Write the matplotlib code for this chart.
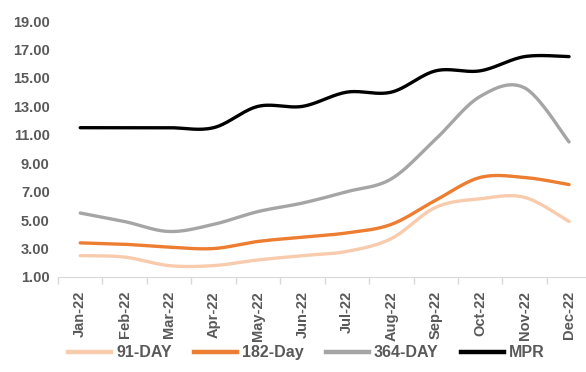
import matplotlib.pyplot as plt
import numpy as np
from matplotlib.lines import Line2D

plt.rcParams['font.family'] = ['Liberation Sans', 'DejaVu Sans']

# Data
months = ['Jan-22', 'Feb-22', 'Mar-22', 'Apr-22', 'May-22', 'Jun-22',
          'Jul-22', 'Aug-22', 'Sep-22', 'Oct-22', 'Nov-22', 'Dec-22']
tb_91 = [2.5, 2.4, 1.8, 1.8, 2.2, 2.5, 2.8, 3.7, 5.9, 6.5, 6.6, 4.9]
tb_182 = [3.4, 3.3, 3.1, 3.0, 3.5, 3.8, 4.1, 4.7, 6.4, 8.0, 8.0, 7.5]
tb_364 = [5.5, 4.9, 4.2, 4.7, 5.6, 6.2, 7.0, 7.9, 10.7, 13.7, 14.3, 10.5]
mpr = [11.5, 11.5, 11.5, 11.5, 13.0, 13.0, 14.0, 14.0, 15.5, 15.5, 16.5, 16.5]

series = [('91-DAY', tb_91, '#F8CBAD'),
          ('182-Day', tb_182, '#ED7D31'),
          ('364-DAY', tb_364, '#A5A5A5'),
          ('MPR', mpr, '#000000')]


def smooth(x, y, n=30):
    # cubic Bezier through every point, spreadsheet-style smoothing
    p = np.column_stack([x, y]).astype(float)
    ext = np.vstack([p[0], p, p[-1]])
    t = np.linspace(0, 1, n)[:, None]
    out = []
    for i in range(len(p) - 1):
        p0, p3 = p[i], p[i + 1]
        c1 = p0 + (ext[i + 2] - ext[i]) / 6
        c2 = p3 - (ext[i + 3] - ext[i + 1]) / 6
        seg = ((1 - t) ** 3) * p0 + 3 * ((1 - t) ** 2) * t * c1 \
            + 3 * (1 - t) * t ** 2 * c2 + t ** 3 * p3
        out.append(seg if i == 0 else seg[1:])
    out = np.vstack(out)
    return out[:, 0], out[:, 1]


fig = plt.figure(figsize=(5.86, 3.72), dpi=100)
ax = fig.add_axes([0.099, 0.2554, 0.91, 0.688])

x = np.arange(len(months))
handles = []
for name, vals, col in series:
    sx, sy = smooth(x, vals)
    ax.plot(sx, sy, color=col, lw=2.4, solid_capstyle='round')
    handles.append(Line2D([], [], color=col, lw=3.2, label=name))

ax.set_xlim(-0.5, len(months) - 0.5)
ax.set_ylim(1, 19)
ax.set_yticks(np.arange(1, 20, 2))
ax.set_yticklabels([f'{v:.2f}' for v in np.arange(1, 20, 2)])

ax.set_xticks(x)
ax.set_xticklabels(months, rotation=90)
ax.set_xticks(np.arange(-0.5, len(months), 1), minor=True)
ax.tick_params(axis='x', which='major', length=0, pad=10)
ax.tick_params(axis='x', which='minor', length=5, color='#D9D9D9', width=1)
ax.tick_params(axis='y', length=0, pad=6)
for lbl in ax.get_xticklabels() + ax.get_yticklabels():
    lbl.set_fontweight('bold')
    lbl.set_color('#595959')
    lbl.set_fontsize(10.5)

for side in ['top', 'right', 'left']:
    ax.spines[side].set_visible(False)
ax.spines['bottom'].set_color('#D9D9D9')

leg = fig.legend(handles=handles, loc='center', bbox_to_anchor=(0.523, 0.052),
                 ncol=4, frameon=False, handlelength=2.7, columnspacing=1.4,
                 handletextpad=0.3, prop={'weight': 'bold', 'size': 11.5})
for txt in leg.get_texts():
    txt.set_color('#595959')

fig.savefig('out.png', dpi=100)
plt.close()
